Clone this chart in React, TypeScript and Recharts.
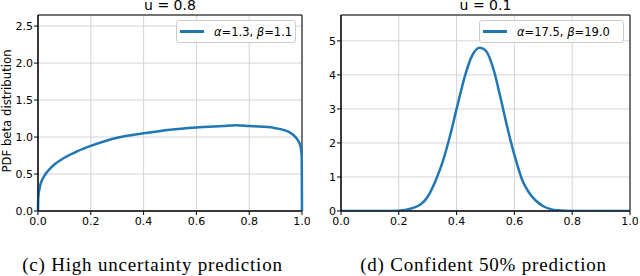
import { LineChart, Line, XAxis, YAxis, CartesianGrid, ReferenceArea } from "recharts";

// left panel: Beta(1.3, 1.1), u = 0.8
const leftX = [0, 0.001, 0.005, 0.01, 0.02, 0.05, 0.1, 0.15, 0.2, 0.3, 0.4, 0.5, 0.6, 0.7, 0.75, 0.8, 0.85, 0.9, 0.95, 0.98, 0.99, 0.995, 0.999, 1];
const leftY = [0, 0.18, 0.29, 0.37, 0.45, 0.59, 0.72, 0.81, 0.88, 0.99, 1.05, 1.1, 1.13, 1.15, 1.16, 1.15, 1.14, 1.12, 1.07, 0.98, 0.92, 0.86, 0.73, 0];

// right panel: Beta(17.5, 19.0), u = 0.1
const rightX = [0, 0.1, 0.15, 0.2, 0.25, 0.3, 0.33, 0.35, 0.38, 0.4, 0.43, 0.45, 0.48, 0.5, 0.53, 0.55, 0.58, 0.6, 0.63, 0.65, 0.7, 0.75, 0.8, 0.9, 1];
const rightY = [0, 0, 0, 0.01, 0.09, 0.42, 0.95, 1.4, 2.3, 3.0, 4.0, 4.5, 4.8, 4.72, 4.1, 3.4, 2.3, 1.65, 0.85, 0.55, 0.14, 0.02, 0, 0, 0];

const xTicks = [0, 0.2, 0.4, 0.6, 0.8, 1];
const leftYTicks = [0, 0.5, 1, 1.5, 2, 2.5];
const rightYTicks = [0, 1, 2, 3, 4, 5];

const leftData = leftX.map((x, i) => ({ x, y: leftY[i] }));
const rightData = rightX.map((x, i) => ({ x, y: rightY[i] }));

const BLUE = "#1f77b4";
const FONT = "'DejaVu Sans', sans-serif";
const SERIF = "'Liberation Serif', serif";
const tickStyle = { fontSize: 11, fill: "#000", fontFamily: FONT };

type PanelProps = {
  data: { x: number; y: number }[];
  yMax: number;
  yTicks: number[];
  yFmt: (v: number) => string;
  yAxisWidth: number;
  width: number;
  left: number;
};

function Panel({ data, yMax, yTicks, yFmt, yAxisWidth, width, left }: PanelProps) {
  return (
    <div style={{ position: "absolute", left, top: 0 }}>
      <LineChart width={width} height={231} data={data} margin={{ top: 15, right: 8, bottom: 0, left: 0 }}>
        <CartesianGrid stroke="#d4d4d4" strokeWidth={1} />
        <XAxis
          dataKey="x"
          type="number"
          domain={[0, 1]}
          ticks={xTicks}
          tickFormatter={(v: number) => v.toFixed(1)}
          tick={tickStyle}
          tickSize={4}
          tickMargin={2}
          height={20}
          stroke="#000"
          interval={0}
        />
        <YAxis
          type="number"
          domain={[0, yMax]}
          ticks={yTicks}
          tickFormatter={yFmt}
          tick={tickStyle}
          tickSize={4}
          tickMargin={1}
          width={yAxisWidth}
          stroke="#000"
          interval={0}
          allowDataOverflow
        />
        <ReferenceArea x1={0} x2={1} y1={0} y2={yMax} fill="none" stroke="#000" strokeWidth={1} />
        <Line
          type="monotone"
          dataKey="y"
          stroke={BLUE}
          strokeWidth={2.5}
          dot={false}
          isAnimationActive={false}
        />
      </LineChart>
    </div>
  );
}

function LegendBox({ left, width, alpha, beta }: { left: number; width: number; alpha: string; beta: string }) {
  return (
    <div
      style={{
        position: "absolute",
        left,
        top: 20,
        width,
        height: 23,
        boxSizing: "border-box",
        border: "1px solid #cccccc",
        borderRadius: 3,
        background: "rgba(255,255,255,0.85)",
        display: "flex",
        alignItems: "center",
        fontFamily: FONT,
        fontSize: 11.5,
        color: "#000",
        whiteSpace: "nowrap",
      }}
    >
      <div style={{ width: 24, height: 2.5, background: BLUE, marginLeft: 3, marginRight: 10 }} />
      <span>
        <i>α</i>={alpha}, <i>β</i>={beta}
      </span>
    </div>
  );
}

export default function App() {
  return (
    <div style={{ position: "absolute", left: 0, top: 0, width: 640, height: 276, background: "#fff", overflow: "hidden" }}>
      <Panel data={leftData} yMax={2.65} yTicks={leftYTicks} yFmt={(v) => v.toFixed(1)} yAxisWidth={38} width={310} left={0} />
      <Panel data={rightData} yMax={5.76} yTicks={rightYTicks} yFmt={(v) => String(v)} yAxisWidth={21} width={318} left={320} />
      <LegendBox left={176} width={120} alpha="1.3" beta="1.1" />
      <LegendBox left={479} width={145} alpha="17.5" beta="19.0" />
      <svg width={640} height={276} style={{ position: "absolute", left: 0, top: 0, pointerEvents: "none" }}>
        <text x={170} y={10} textAnchor="middle" fontFamily={FONT} fontSize={14}>u = 0.8</text>
        <text x={485.5} y={10} textAnchor="middle" fontFamily={FONT} fontSize={14}>u = 0.1</text>
        <text x={11} y={111} textAnchor="middle" fontFamily={FONT} fontSize={11.7} transform="rotate(-90 11 111)">
          PDF beta distribution
        </text>
        <text x={152.5} y={271} textAnchor="middle" fontFamily={SERIF} fontSize={19} letterSpacing={0.8}>
          (c) High uncertainty prediction
        </text>
        <text x={483.5} y={271} textAnchor="middle" fontFamily={SERIF} fontSize={19} letterSpacing={0.8}>
          (d) Confident 50% prediction
        </text>
      </svg>
    </div>
  );
}
